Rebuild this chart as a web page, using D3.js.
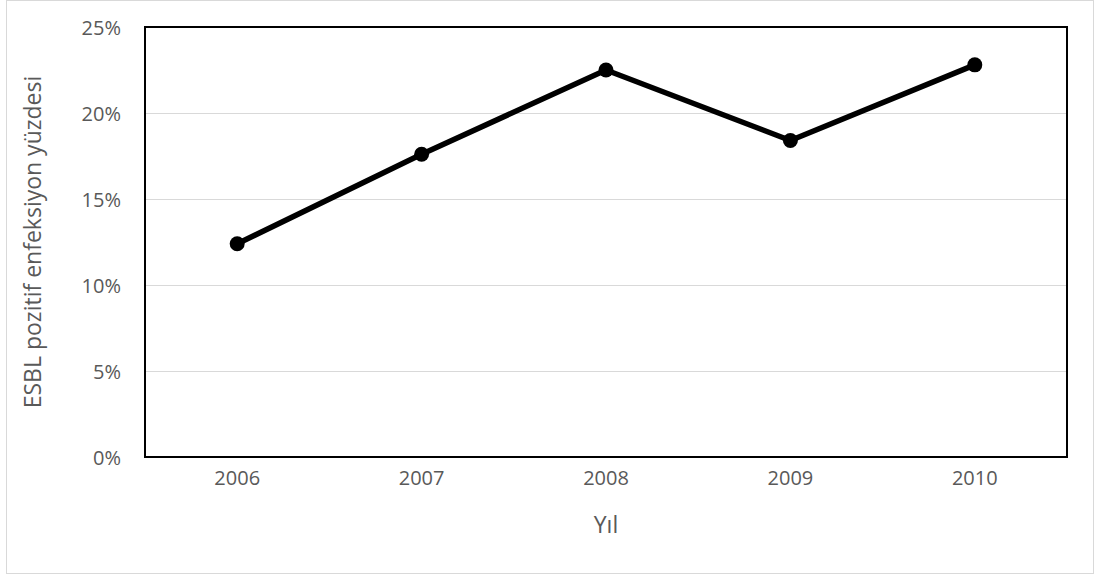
<!DOCTYPE html>
<html>
<head>
<meta charset="utf-8">
<script src="https://cdn.jsdelivr.net/npm/d3@7"></script>
<style>
  html, body { margin: 0; padding: 0; background: #fff; }
  svg { display: block; }
  text { font-family: "Open Sans", "Noto Sans", sans-serif; fill: #595959; }
</style>
</head>
<body>
<svg id="chart" width="1099" height="579"></svg>
<script>
// Years and the share of ESBL-positive infections (%)
const years = ["2006", "2007", "2008", "2009", "2010"];
const esblPercent = [12.4, 17.6, 22.5, 18.4, 22.8];
const yTicks = [0, 5, 10, 15, 20, 25];

const svg = d3.select("#chart");
const plot = { left: 145, right: 1067, top: 27, bottom: 457 };
const tickFont = 20;
const titleFont = 23;

// Outer chart frame
svg.append("rect")
  .attr("x", 6.5).attr("y", 0.5)
  .attr("width", 1087).attr("height", 573)
  .attr("fill", "#fff")
  .attr("stroke", "#d9d9d9").attr("stroke-width", 1);

const x = d3.scaleBand().domain(years).range([plot.left, plot.right]);
const y = d3.scaleLinear().domain([0, 25]).range([plot.bottom, plot.top]);

// Horizontal gridlines
svg.append("g")
  .selectAll("line")
  .data(yTicks)
  .join("line")
  .attr("x1", plot.left).attr("x2", plot.right)
  .attr("y1", d => Math.round(y(d)) + 0.5)
  .attr("y2", d => Math.round(y(d)) + 0.5)
  .attr("stroke", "#d9d9d9").attr("stroke-width", 1);

// Y axis labels
const yAxis = d3.axisLeft(y).tickValues(yTicks).tickSize(0).tickPadding(0)
  .tickFormat(d => d + "%");
svg.append("g")
  .attr("transform", `translate(${plot.left - 24},0)`)
  .call(yAxis)
  .call(g => g.select(".domain").remove())
  .attr("font-size", tickFont)
  .attr("font-family", "\"Open Sans\", sans-serif")
  .selectAll("text")
  .attr("fill", "#595959")
  .attr("dy", "0.35em");

// X axis labels
const xAxis = d3.axisBottom(x).tickSize(0).tickPadding(0);
svg.append("g")
  .attr("transform", `translate(0,${plot.bottom + 14})`)
  .call(xAxis)
  .call(g => g.select(".domain").remove())
  .attr("font-size", tickFont)
  .attr("font-family", "\"Open Sans\", sans-serif")
  .selectAll("text")
  .attr("fill", "#595959")
  .attr("dy", "0.71em");

// Plot area border
svg.append("rect")
  .attr("x", plot.left).attr("y", plot.top)
  .attr("width", plot.right - plot.left)
  .attr("height", plot.bottom - plot.top)
  .attr("fill", "none")
  .attr("stroke", "#000").attr("stroke-width", 2);

// Axis titles
svg.append("text")
  .attr("x", (plot.left + plot.right) / 2)
  .attr("y", 525)
  .attr("dy", "0.35em")
  .attr("text-anchor", "middle")
  .attr("font-size", titleFont)
  .text("Yıl");

svg.append("text")
  .attr("transform", `translate(33,${(plot.top + plot.bottom) / 2}) rotate(-90)`)
  .attr("dy", "0.35em")
  .attr("text-anchor", "middle")
  .attr("font-size", titleFont)
  .text("ESBL pozitif enfeksiyon yüzdesi");

// Series line and markers
const pts = years.map((yr, i) => ({ yr, v: esblPercent[i] }));
const line = d3.line()
  .x(d => x(d.yr) + x.bandwidth() / 2)
  .y(d => y(d.v));

svg.append("path")
  .datum(pts)
  .attr("d", line)
  .attr("fill", "none")
  .attr("stroke", "#000")
  .attr("stroke-width", 5.5)
  .attr("stroke-linejoin", "round");

svg.append("g")
  .selectAll("circle")
  .data(pts)
  .join("circle")
  .attr("cx", d => x(d.yr) + x.bandwidth() / 2)
  .attr("cy", d => y(d.v))
  .attr("r", 7.5)
  .attr("fill", "#000");
</script>
</body>
</html>
